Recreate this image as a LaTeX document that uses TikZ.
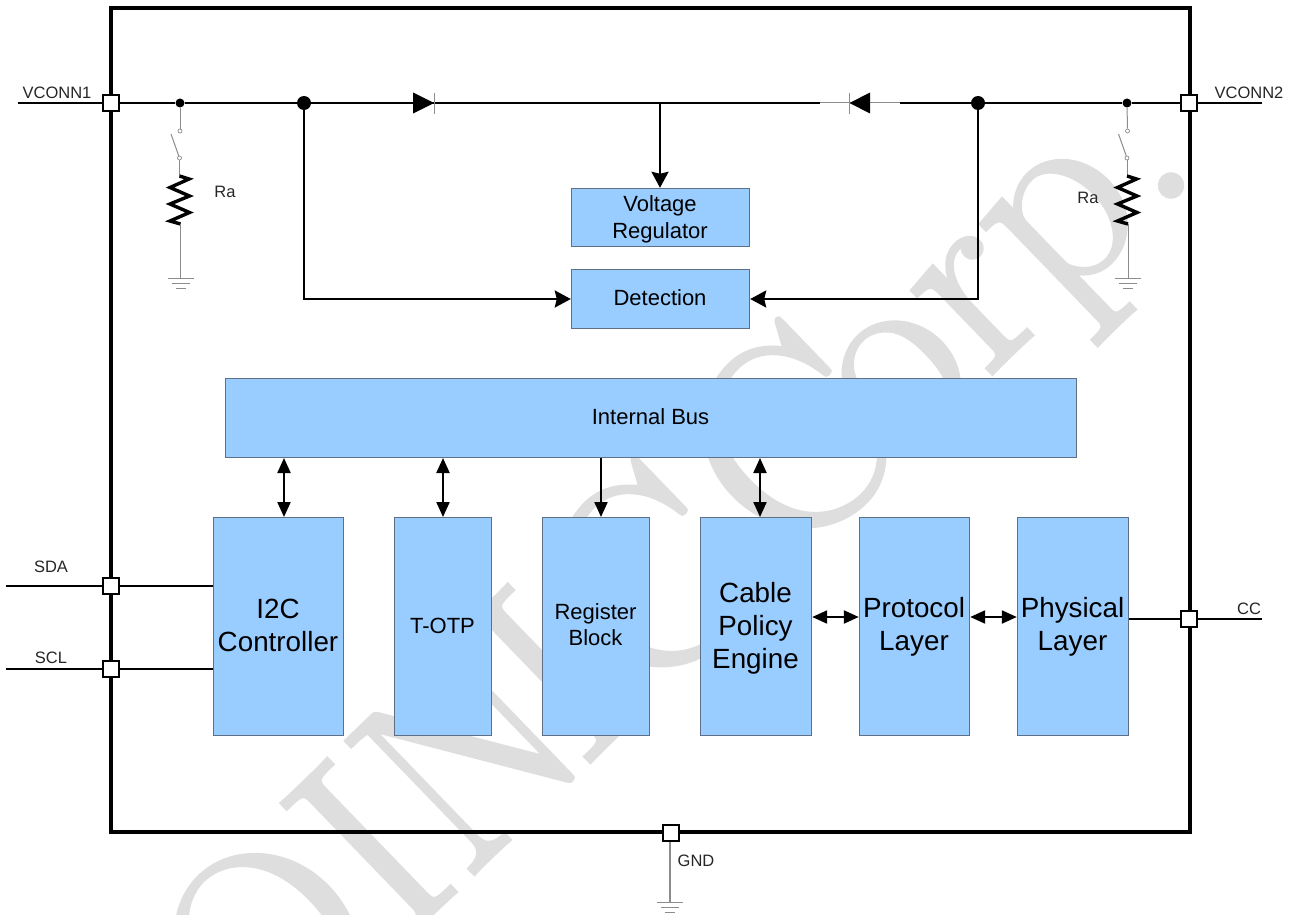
\documentclass[tikz,border=0pt]{standalone}
\usepackage{fontspec}
\setsansfont{Liberation Sans}
\newfontfamily\markfont[FakeBold=1.6]{Latin Modern Roman}
\renewcommand{\familydefault}{\sfdefault}
\usepackage{tikz}
\usetikzlibrary{positioning, arrows.meta, calc}
\definecolor{blockblue}{HTML}{99CCFF}
\definecolor{blockedge}{HTML}{5F6F85}
\definecolor{markgray}{HTML}{DEDEDE}
\definecolor{thingray}{HTML}{8C8C8C}
\def\raster{1pt}
\tikzset{
    block/.style={draw=blockedge, fill=blockblue, line width=1, inner sep=0},
    blocktxt/.style={align=center, text=black, inner sep=0},
    textmid/.style={font=\fontsize{22}{26.5}\selectfont},
    textbig/.style={font=\fontsize{27.8}{33}\selectfont},
    label/.style={font=\fontsize{16.5}{20}\selectfont, text=black!85, inner sep=0},
    pin/.style={draw=black, fill=white, line width=2, minimum size=16, inner sep=0},
    bigdot/.style={circle, fill=black, minimum size=14, inner sep=0},
    smalldot/.style={circle, fill=black, minimum size=9, inner sep=0},
    contact/.style={circle, draw=thingray, fill=white, line width=0.7, minimum size=4, inner sep=0},
    wire/.style={black, line width=2.2},
    thinwire/.style={thingray, line width=1},
    frame/.style={black, line width=3.6},
    power/.style={wire, -{Stealth[length=16, width=17, inset=2]}},
    busone/.style={wire, -{Stealth[length=15, width=13, inset=0]}},
    bustwo/.style={wire, {Stealth[length=15, width=13, inset=0]}-{Stealth[length=15, width=13, inset=0]}},
}
\def\tikground#1#2{%
    \draw[thinwire] (#1-13,#2) -- (#1+13,#2);
    \draw[thinwire] (#1-9,#2+5.5) -- (#1+9,#2+5.5);
    \draw[thinwire] (#1-5,#2+10.5) -- (#1+5,#2+10.5);
}

\begin{document}
\begin{tikzpicture}[x=\raster, y=-\raster]
    \useasboundingbox (0,0) rectangle (1296,915);

    % watermark
    \node[rotate=44, text=markgray, font=\markfont\fontsize{270}{270}\selectfont, inner sep=0, anchor=base east] (mark) at (1203,170) {\spaceskip=20pt OIN\kern-25pt IC C\kern-30pt orp.};

    % border
    \draw[frame] (111,8) rectangle (1190,832);

    % pins
    \foreach \name/\x/\y in {pinvl/111/103, pinvr/1189/103, pinsda/111/586, pinscl/111/669, pincc/1189/619, pingnd/671/833}
    {
        \node[pin] (\name) at (\x,\y) {};
    }

    % blocks
    \foreach \name/\xa/\xb/\ya/\yb/\dy/\style/\txt in {
        vreg/571/750/188/247/2/textmid/{Voltage\\Regulator},
        detect/571/750/269/329/-1/textmid/{Detection},
        bus/225/1077/378/458/-1/textmid/{Internal Bus},
        i2c/213/344/517/736/-1/textbig/{I2C\\Controller},
        otp/394/492/517/736/-1/textmid/{T-OTP},
        reg/542/650/517/736/-2/textmid/{Register\\Block},
        cable/700/812/517/736/1.5/textbig/{Cable\\Policy\\Engine},
        proto/859/970/517/736/0/textbig/{Protocol\\Layer},
        phy/1017/1129/517/736/0/textbig/{Physical\\Layer}}
    {
        \node[block, minimum width=\xb-\xa-0.6, minimum height=\yb-\ya-0.6] (\name) at ({(\xa+\xb)/2},{(\ya+\yb)/2}) {};
        \node[blocktxt, \style] (\name txt) at ({(\xa+\xb)/2-0.5},{(\ya+\yb)/2+\dy}) {\txt};
    }

    % VCONN rail
    \coordinate (vlend) at (18,103);
    \coordinate (vrend) at (1262,103);
    \coordinate (railm) at (820,103);
    \coordinate (railn) at (900,103);
    \node[smalldot] (dotsl) at (180,103) {};
    \node[smalldot] (dotsr) at (1127,103) {};
    \node[bigdot] (dotbl) at (304,103) {};
    \node[bigdot] (dotbr) at (978,103) {};
    \coordinate (tap) at (660,103);
    \draw[wire] (vlend) -- (pinvl.west);
    \draw[wire] (pinvl.east) -- (dotsl) -- (dotbl) -- (tap) -- (railm);
    \draw[thinwire] (railm) -- (railn);
    \draw[wire] (railn) -- (dotbr) -- (dotsr) -- (pinvr.west);
    \draw[wire] (pinvr.east) -- (vrend);

    % diodes
    \fill[black] (413,92.5) -- (434,103) -- (413,113.5) -- cycle;
    \draw[thinwire] (434,93) -- (434,114);
    \fill[black] (870,92.5) -- (849.5,103) -- (870,113.5) -- cycle;
    \draw[thinwire] (849.5,93) -- (849.5,114);

    % power arrows
    \draw[power] (tap) -- (tap |- vreg.north);
    \draw[power] (dotbl) |- (detect.west);
    \draw[power] (dotbr) |- (detect.east);

    % Ra branches
    \foreach \dotname/\xbr in {dotsl/180, dotsr/1127.5}
    {
        \begin{scope}[shift={(\xbr,0)}]
            \coordinate (reshead) at (-0.5,176);
            \coordinate (restail) at (0.5,224);
            \node[contact] (conta) at (0,131) {};
            \node[contact] (contb) at (-0.5,158) {};
            \draw[thinwire] (\dotname) -- (conta);
            \draw[thinwire] (contb) -- (-9,134);
            \draw[thinwire] (contb) -- (reshead);
            \draw[black, line width=3.4, line join=miter] (reshead) -- (9,179) -- (-10,187.5) -- (9.5,196) -- (-10,204) -- (9.5,212.5) -- (-10,221) -- (restail);
            \draw[thinwire] (restail) -- (0.5,278);
            \tikground{0.5}{278}
        \end{scope}
    }

    % bus arrows
    \foreach \x/\name/\kind in {284/i2c/bustwo, 443/otp/bustwo, 601/reg/busone, 760/cable/bustwo}
    {
        \draw[\kind] (\x,458) -- (\x,517);
    }
    \draw[bustwo] (cable.east |- 0,617) -- (proto.west |- 0,617);
    \draw[bustwo] (proto.east |- 0,617) -- (phy.west |- 0,617);

    % outside wires
    \coordinate (sdaend) at (6,586);
    \coordinate (sclend) at (6,669);
    \coordinate (ccend) at (1262,619);
    \draw[wire] (sdaend) -- (pinsda.west);
    \draw[wire] (pinsda.east) -- (pinsda.east -| i2c.west);
    \draw[wire] (sclend) -- (pinscl.west);
    \draw[wire] (pinscl.east) -- (pinscl.east -| i2c.west);
    \draw[wire] (pincc.west -| phy.east) -- (pincc.west);
    \draw[wire] (pincc.east) -- (ccend);
    \coordinate (gndend) at (670,902);
    \draw[thinwire, line width=1.4] (pingnd.south -| gndend) -- (gndend);
    \tikground{670}{902}

    % labels
    \foreach \name/\x/\y/\txt in {
        lblvl/57/93/VCONN1, lblvr/1249/93/VCONN2, lblsda/51/567/SDA, lblscl/51/658/SCL,
        lblcc/1249/609/CC, lblgnd/696/861/GND, lblral/225/192/Ra, lblrar/1088/198/Ra}
    {
        \node[label] (\name) at (\x,\y) {\txt};
    }
\end{tikzpicture}
\end{document}
